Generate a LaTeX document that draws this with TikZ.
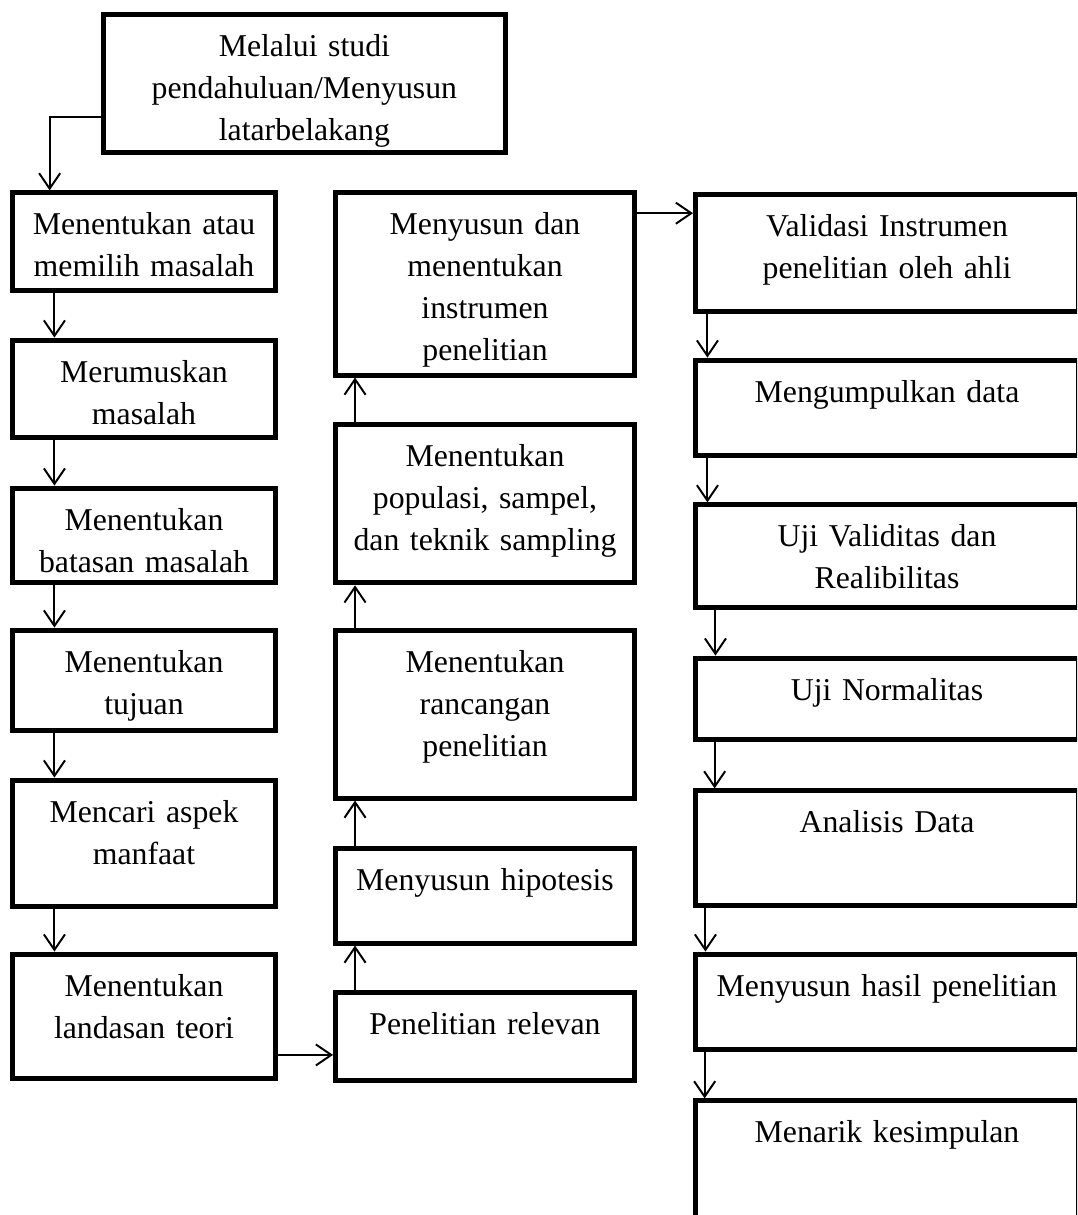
\documentclass[tikz,border=0pt]{standalone}
\usepackage{fontspec}
\setmainfont{Liberation Serif}
\usetikzlibrary{arrows.meta, positioning, calc}

\tikzset{
    stepbox/.style={draw, line width=3.5pt, inner sep=0pt, anchor=north, align=center,
        text height=1.05cm, font=\fontsize{22.6pt}{29.9pt}\selectfont},
    leftcol/.style={stepbox, text width=6.575cm},
    midcol/.style={stepbox, text width=7.475cm},
    rightcol/.style={stepbox, text width=9.575cm},
    flow/.style={line width=1.4pt, -{Straight Barb[length=11pt, width=15pt]}}
}

\begin{document}
\begin{tikzpicture}
    \useasboundingbox (0,0) rectangle (26.925,-30.375);
    \clip (0,0) rectangle (26.925,-30.375);

    % Start
    \node[stepbox, text width=10.05cm, text depth=2.4cm] (T) at (7.61,-0.31) {Melalui studi\\pendahuluan/Menyusun\\latarbelakang};

    % Left column
    \node[leftcol, text depth=1.4cm] (L1) at (3.6,-4.76) {Menentukan atau\\memilih masalah};
    \node[leftcol, text depth=1.375cm] (L2) at (3.6,-8.44) {Merumuskan\\masalah};
    \node[leftcol, text depth=1.3cm] (L3) at (3.6,-12.14) {Menentukan\\batasan masalah};
    \node[leftcol, text depth=1.45cm] (L4) at (3.6,-15.69) {Menentukan\\tujuan};
    \node[leftcol, text depth=2.1cm] (L5) at (3.6,-19.44) {Mencari aspek\\manfaat};
    \node[leftcol, text depth=2.05cm] (L6) at (3.6,-23.79) {Menentukan\\landasan teori};

    % Middle column
    \node[midcol, text depth=3.525cm] (M1) at (12.125,-4.74) {Menyusun dan\\menentukan\\instrumen\\penelitian};
    \node[midcol, text depth=2.9cm] (M2) at (12.125,-10.56) {Menentukan\\populasi, sampel,\\dan teknik sampling};
    \node[midcol, text depth=3.15cm] (M3) at (12.125,-15.69) {Menentukan\\rancangan\\penelitian};
    \node[midcol, text depth=1.325cm] (M4) at (12.125,-21.14) {Menyusun hipotesis};
    \node[midcol, text depth=1.15cm] (M5) at (12.125,-24.74) {Penelitian relevan};

    % Right column
    \node[rightcol, text depth=1.875cm] (R1) at (22.175,-4.81) {Validasi Instrumen\\penelitian oleh ahli};
    \node[rightcol, text depth=1.325cm] (R2) at (22.175,-8.94) {Mengumpulkan data};
    \node[rightcol, text depth=1.525cm] (R3) at (22.175,-12.56) {Uji Validitas dan\\Realibilitas};
    \node[rightcol, text depth=0.975cm] (R4) at (22.175,-16.39) {Uji Normalitas};
    \node[rightcol, text depth=1.825cm] (R5) at (22.175,-19.71) {Analisis Data};
    \node[rightcol, text depth=1.325cm] (R6) at (22.175,-23.79) {Menyusun hasil penelitian};
    \node[rightcol, text depth=2.45cm] (R7) at (22.175,-27.46) {Menarik kesimpulan};

    % Connectors
    \draw[flow] ([yshift=0.96cm]T.south west) -| ([xshift=0.99cm]L1.north west);
    \foreach \a/\b in {L1/L2, L2/L3, L3/L4, L4/L5, L5/L6}
        \draw[flow] ([xshift=1.11cm]\a.south west) -- ([xshift=1.11cm]\b.north west);
    \draw[flow] ([yshift=0.64cm]L6.south east) -- ([yshift=0.64cm]L6.south east -| M5.west);
    \foreach \a/\b in {M5/M4, M4/M3, M3/M2, M2/M1}
        \draw[flow] ([xshift=0.55cm]\a.north west) -- ([xshift=0.55cm]\b.south west);
    \draw[flow] ([yshift=-0.59cm]M1.north east) -- ([yshift=-0.59cm]M1.north east -| R1.west);
    \foreach \a/\b/\d in {R1/R2/0.36, R2/R3/0.36, R3/R4/0.56, R4/R5/0.54, R5/R6/0.31, R6/R7/0.29}
        \draw[flow] ([xshift=\d cm]\a.south west) -- ([xshift=\d cm]\b.north west);
\end{tikzpicture}
\end{document}
